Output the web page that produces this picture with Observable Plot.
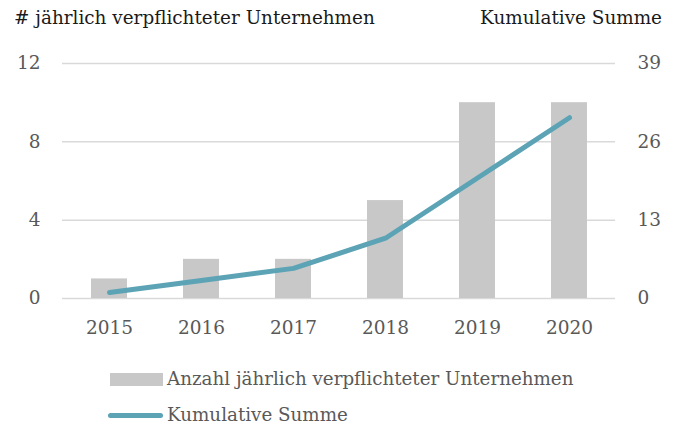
<!DOCTYPE html>
<html>
<head>
<meta charset="utf-8">
<script src="https://cdn.jsdelivr.net/npm/d3@7"></script>
<script src="https://cdn.jsdelivr.net/npm/@observablehq/plot@0.6"></script>
<style>
  html, body { margin: 0; padding: 0; background: #fff; }
  #wrap { position: relative; width: 678px; height: 425px; font-family: "DejaVu Serif", serif; overflow: hidden; }
  .title { position: absolute; top: 6px; font-size: 18.4px; line-height: 24px; color: #1a1a1a; white-space: nowrap; }
  .leg { position: absolute; left: 108px; font-size: 18.3px; line-height: 20px; height: 20px; color: #595959; white-space: nowrap; display: flex; align-items: center; }
  .sw { display: inline-block; margin-right: 4px; }
  #chart { position: absolute; left: 0; top: 0; }
</style>
</head>
<body>
<div id="wrap">
  <div id="chart"></div>
  <div class="title" id="tl" style="left:14px;"></div>
  <div class="title" id="tr" style="right:16px;"></div>
  <div class="leg" style="top:369px;"><span class="sw" style="width:53px;height:13px;background:#c8c8c8;margin-left:2px;"></span><span id="l1"></span></div>
  <div class="leg" style="top:405px;"><span class="sw" style="width:55px;height:5px;background:#5ba3b5;border-radius:3px;"></span><span id="l2"></span></div>
</div>
<script>
const years = ["2015", "2016", "2017", "2018", "2019", "2020"];
const annual = [1, 2, 2, 5, 10, 10];
const cumulative = [1, 3, 5, 10, 20, 30];
const leftTicks = [0, 4, 8, 12];
const rightTicks = [0, 13, 26, 39];
const leftTitle = "# jährlich verpflichteter Unternehmen";
const rightTitle = "Kumulative Summe";
const barLabel = "Anzahl jährlich verpflichteter Unternehmen";
const lineLabel = "Kumulative Summe";

const leftMax = 12, rightMax = 39;
const ratio = leftMax / rightMax;
const data = years.map((y, i) => ({year: y, annual: annual[i], cum: cumulative[i]}));

document.getElementById("tl").textContent = leftTitle;
document.getElementById("tr").textContent = rightTitle;
document.getElementById("l1").textContent = barLabel;
document.getElementById("l2").textContent = lineLabel;

const chart = Plot.plot({
  width: 678,
  height: 345,
  marginTop: 63,
  marginBottom: 47,
  marginLeft: 62,
  marginRight: 63,
  style: {fontFamily: "DejaVu Serif, serif", fontSize: "18.5px", color: "#595959", background: "transparent"},
  x: {domain: years, paddingInner: 0.61, paddingOuter: 0.305, label: null},
  y: {domain: [0, leftMax], label: null},
  marks: [
    Plot.ruleY(leftTicks, {stroke: "#d9d9d9", strokeWidth: 1.5}),
    Plot.barY(data, {x: "year", y: "annual", fill: "#c8c8c8"}),
    Plot.line(data, {x: "year", y: d => d.cum * ratio, stroke: "#5ba3b5", strokeWidth: 5, strokeLinecap: "round", strokeLinejoin: "round"}),
    Plot.axisX({tickSize: 0, tickPadding: 22, fill: "#595959", label: null}),
    Plot.axisY(leftTicks, {anchor: "left", tickSize: 0, tickPadding: 22, fill: "#595959", label: null}),
    Plot.axisY(rightTicks.map(t => t * ratio), {anchor: "right", tickSize: 0, tickPadding: 22, fill: "#595959", label: null, textAnchor: "start", tickFormat: (d, i) => String(rightTicks[i])})
  ]
});
document.getElementById("chart").appendChild(chart);
</script>
</body>
</html>
